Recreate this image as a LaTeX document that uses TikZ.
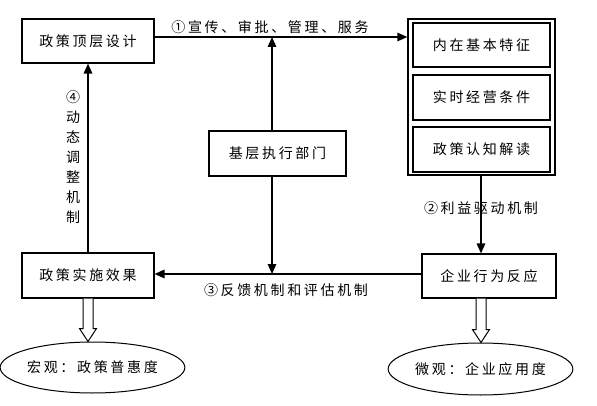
\documentclass[tikz,border=0pt]{standalone}
\usepackage{fontspec}
\newfontfamily\cjk[LetterSpace=19]{Noto Sans CJK SC}
\usetikzlibrary{arrows.meta,shapes.geometric,calc}
\begin{document}
\begin{tikzpicture}[x=1pt,y=-1pt,
  every node/.style={font=\cjk\fontsize{14pt}{16pt}\selectfont, inner sep=0pt},
  box/.style={draw, line width=1.1pt, rectangle, minimum width=#1, minimum height=44pt},
  outerbox/.style={draw, line width=1.3pt, rectangle, minimum width=147pt, minimum height=156pt},
  ell/.style={draw, line width=1pt, ellipse, minimum width=149pt, minimum height=51pt},
  conn/.style={line width=1.5pt},
  arr/.style={conn, -{Triangle[length=10pt,width=8.5pt]}},
  hollow/.style={line width=1pt, fill=white},
  lbl/.style={}
]
\useasboundingbox (0,0) rectangle (597,406);
\fill[white] (0,0) rectangle (597,406);

% nodes
\node[box=132pt] (top) at (88,41) {政策顶层设计};
\node[outerbox] (outer) at (481.5,97) {};
\node[box=137pt] (f1) at (481.5,45) {内在基本特征};
\node[box=137pt, minimum height=45pt] (f2) at (481.5,97.5) {实时经营条件};
\node[box=137pt, minimum height=45pt] (f3) at (481.5,149.5) {政策认知解读};
\node[box=137pt, minimum height=45pt] (base) at (277.5,153.5) {基层执行部门};
\node[box=134pt] (ent) at (489,276) {企业行为反应};
\node[box=132pt, minimum height=45pt] (eff) at (88,275.5) {政策实施效果};
\node[ell] (ell1) at (92.5,367.5) {宏观：政策普惠度};
\node[ell, minimum height=52pt] (ell2) at (480.5,369) {微观：企业应用度};

% helper coordinates
\coordinate (t0) at ([yshift=4pt]top.east);
\coordinate (c1) at (272,37);
\coordinate (c2) at (272,274);
\coordinate (r0) at (481,175);

% connectors
\draw[arr] (t0) -- (t0 -| outer.west);
\draw[arr] (c1 |- base.north) -- (c1);
\draw[arr] (c2 |- base.south) -- (c2);
\draw[arr] (c2 -| ent.west) -- (c2 -| eff.east);
\draw[arr] (eff.north) -- (top.south);
\draw[arr] (r0 |- outer.south) -- (r0 |- ent.north);

% hollow arrows
\coordinate (h1) at (eff.south |- ell1.north);
\draw[hollow] ($(eff.south)+(-5,0)$) -- ($(h1)+(-5,-13)$) -- ($(h1)+(-8.5,-13)$) -- (h1)
  -- ($(h1)+(8.5,-13)$) -- ($(h1)+(5,-13)$) -- ($(eff.south)+(5,0)$);
\coordinate (e2) at (r0 |- ent.south);
\coordinate (h2) at (r0 |- ell2.north);
\draw[hollow] ($(e2)+(-5,0)$) -- ($(h2)+(-5,-13)$) -- ($(h2)+(-8.5,-13)$) -- (h2)
  -- ($(h2)+(8.5,-13)$) -- ($(h2)+(5,-13)$) -- ($(e2)+(5,0)$);

% labels
\node[lbl] (l1) at (270,27) {①宣传、审批、管理、服务};
\node[lbl] (l2) at (481,208) {②利益驱动机制};
\node[lbl] (l3) at (286,290) {③反馈机制和评估机制};
\node[lbl, align=center, font=\cjk\fontsize{14pt}{20pt}\selectfont] (l4) at (73,157.5) {④\\动\\态\\调\\整\\机\\制};
\end{tikzpicture}
\end{document}
